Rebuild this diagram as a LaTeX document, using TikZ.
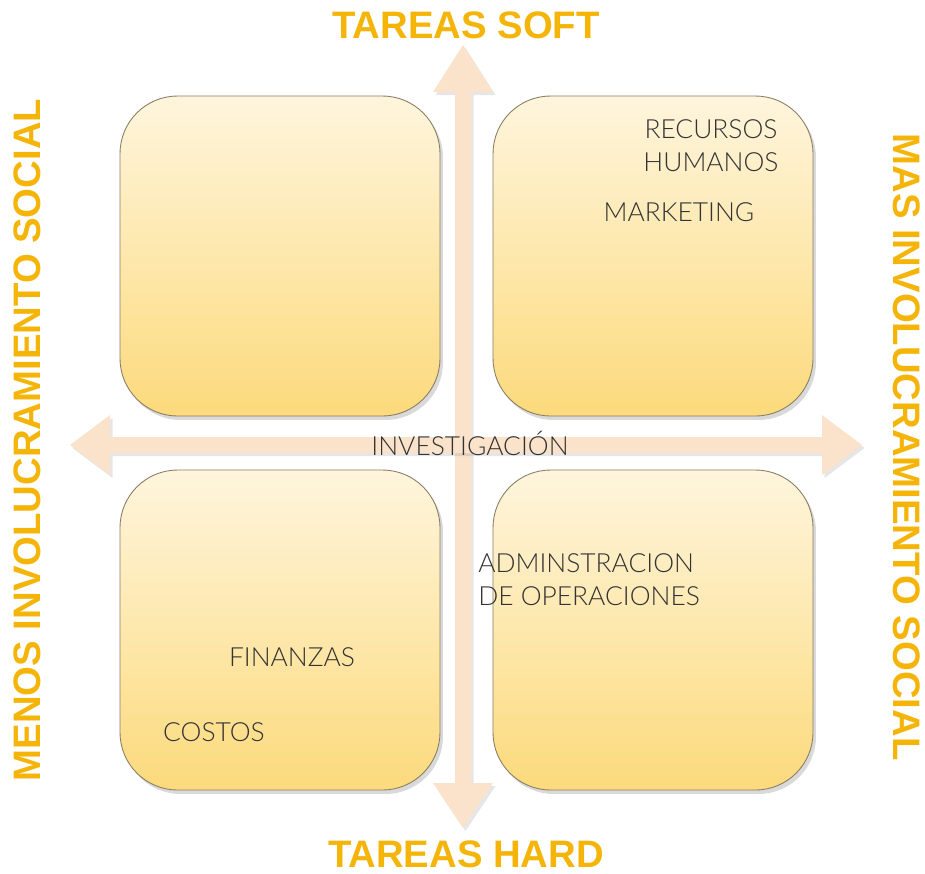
\documentclass[tikz,border=0pt]{standalone}
\usepackage{fontspec}
\setmainfont{Liberation Sans}
\newfontfamily\thinfont{Lato Light}
\usetikzlibrary{shadows}
\definecolor{gold}{HTML}{F5B408}
\definecolor{peach}{HTML}{FBE2CB}
\definecolor{paletop}{HTML}{FEF5DD}
\definecolor{palebot}{HTML}{FCDA7C}
\definecolor{boxline}{HTML}{8A7E62}
\tikzset{
	quad/.style={draw=boxline, line width=0.5pt, rounded corners=1.15cm,
		top color=paletop, bottom color=palebot,
		minimum width=6.4cm, minimum height=6.4cm,
		drop shadow={opacity=0.3, shadow xshift=0.6mm, shadow yshift=-0.8mm}},
	axistitle/.style={font=\bfseries\fontsize{21.8}{24}\selectfont, text=gold, inner sep=0pt},
	area/.style={font=\thinfont\fontsize{15}{18.7}\selectfont, text=black!80, inner sep=0pt},
	peacharrow/.style={fill=peach, drop shadow={opacity=0.2, shadow xshift=0.5mm, shadow yshift=-0.6mm}}
}

\begin{document}
\begin{tikzpicture}[x=0.02cm, y=-0.02cm]
			%%%%% START %%%%%
			\useasboundingbox (0, 0) rectangle (925, 873);
			
			% axes
			\fill[peacharrow] (463, 45) -- (493, 92) -- (471, 92) -- (471, 783) -- (493, 783) -- (463, 828)
				-- (433, 783) -- (455, 783) -- (455, 92) -- (433, 92) -- cycle;
			\fill[peacharrow] (70, 445) -- (110, 415) -- (110, 437) -- (822, 437) -- (822, 415) -- (862, 445)
				-- (822, 475) -- (822, 453) -- (110, 453) -- (110, 475) -- cycle;
			
			% quadrants
			\node[quad] (nw) at (280, 256) {};
			\node[quad] (ne) at (653, 256) {};
			\node[quad] (sw) at (280, 630) {};
			\node[quad] (se) at (653, 630) {};
			
			% titles
			\node[axistitle] (soft) at (466, 25) {TAREAS SOFT};
			\node[axistitle] (hard) at (466, 854) {TAREAS HARD};
			\node[axistitle, rotate=90] (menos) at (27, 440) {MENOS INVOLUCRAMIENTO SOCIAL};
			\node[axistitle, rotate=-90] (mas) at (907, 447) {MAS INVOLUCRAMIENTO SOCIAL};
			
			% areas
			\node[area, align=center] (rrhh) at (711, 146) {RECURSOS\\HUMANOS};
			\node[area] (mkt) at (679, 212) {MARKETING};
			\node[area] (inv) at (470, 443) {INVESTIGACIÓN};
			\node[area, align=left, anchor=west] (ops) at (478, 580) {ADMINSTRACION\\DE OPERACIONES};
			\node[area] (fin) at (292, 657) {FINANZAS};
			\node[area] (cost) at (214, 732) {COSTOS};
			
			%%%%% END %%%%%
\end{tikzpicture}
\end{document}
